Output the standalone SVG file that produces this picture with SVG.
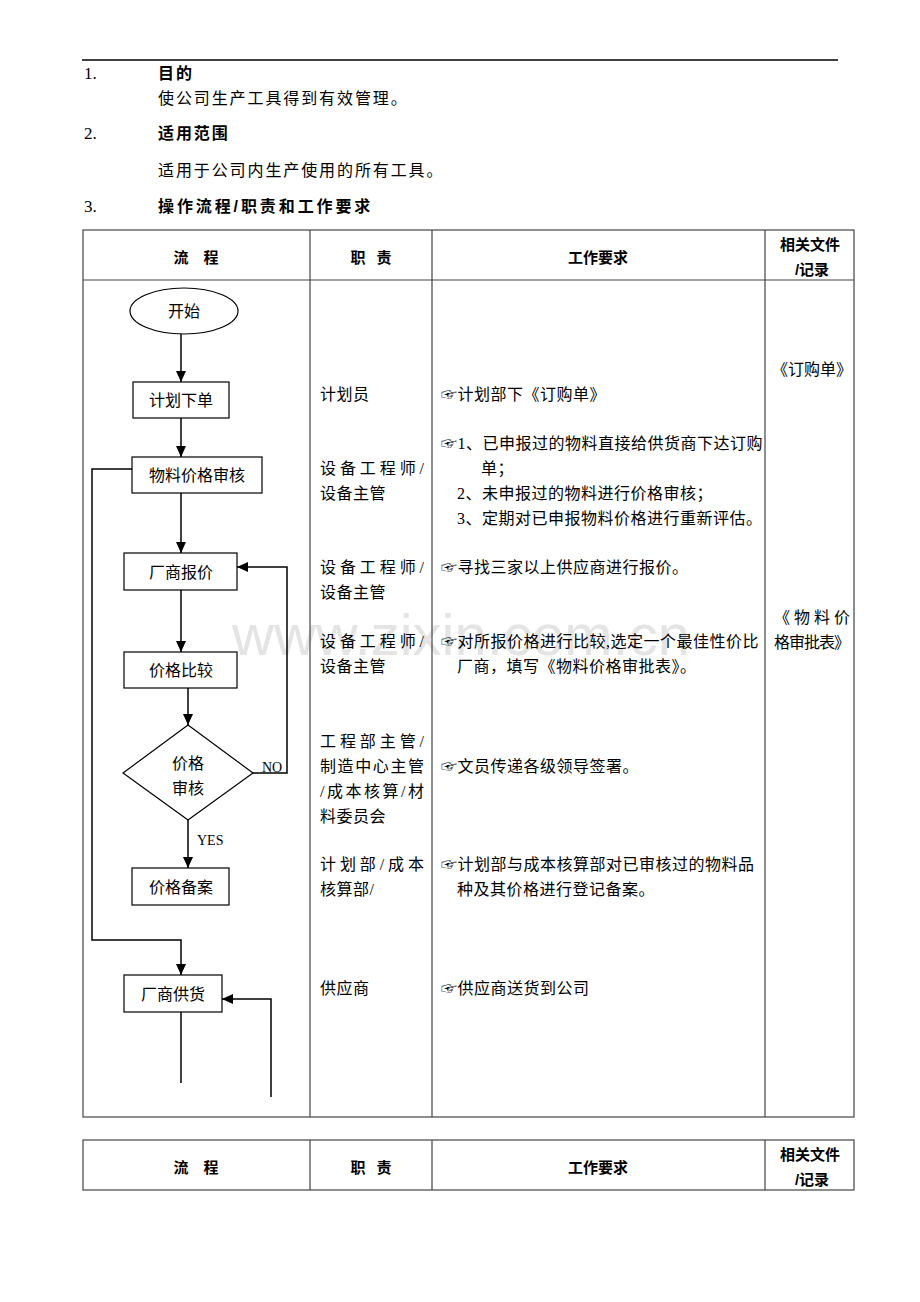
<svg xmlns="http://www.w3.org/2000/svg" width="920" height="1302" viewBox="0 0 920 1302">
<style>
.t{font-family:"Liberation Serif","Noto Sans CJK SC",serif;font-size:16px;fill:#000}
.n{font-family:"Liberation Serif",serif;font-size:17px;fill:#000}
.b{font-family:"Liberation Sans","Noto Sans CJK SC",sans-serif;font-size:16px;font-weight:bold;fill:#000}
.tp{letter-spacing:1.9px}
.c{text-anchor:middle}
.cell{letter-spacing:0.5px}
.grid{stroke:#444;stroke-width:1.2;fill:none}
.box{fill:#fff;stroke:#000;stroke-width:1.2}
.ln{stroke:#000;stroke-width:1.5;fill:none}
.wm{font-family:"Liberation Sans",Arial,sans-serif;font-size:58px;fill:#e4e4e4}
</style>
<defs>
<marker id="ah" markerUnits="userSpaceOnUse" markerWidth="12" markerHeight="10" refX="11" refY="5" orient="auto">
<path d="M0,0 L11,5 L0,10 Z" fill="#000"/>
</marker>
</defs>
<rect width="920" height="1302" fill="#fff"/>

<!-- header section -->
<g id="intro">
<line x1="82" y1="60" x2="838" y2="60" stroke="#000" stroke-width="1.5"/>
<text class="n" x="84" y="79">1.</text>
<text class="b tp" x="158" y="79">目的</text>
<text class="t tp" x="158" y="104">使公司生产工具得到有效管理。</text>
<text class="n" x="84" y="139">2.</text>
<text class="b tp" x="158" y="139">适用范围</text>
<text class="t tp" x="158" y="176">适用于公司内生产使用的所有工具。</text>
<text class="n" x="84" y="212">3.</text>
<text class="b" x="158" y="212" style="letter-spacing:2.9px">操作流程/职责和工作要求</text>
</g>

<!-- watermark -->
<text class="wm" x="232" y="655" textLength="458" lengthAdjust="spacingAndGlyphs">www.zixin.com.cn</text>

<!-- table 1 -->
<g id="table1">
<rect class="grid" x="83" y="230" width="771" height="887"/>
<line class="grid" x1="83" y1="280" x2="854" y2="280"/>
<line class="grid" x1="310" y1="230" x2="310" y2="1117"/>
<line class="grid" x1="432" y1="230" x2="432" y2="1117"/>
<line class="grid" x1="765" y1="230" x2="765" y2="1117"/>
<text class="b c" x="196" y="263" style="font-size:15px">流　程</text>
<text class="b c" x="358" y="263" style="font-size:15px">职</text>
<text class="b c" x="384" y="263" style="font-size:15px">责</text>
<text class="b c" x="598" y="263" style="font-size:15px">工作要求</text>
<text class="b c" x="810" y="250" style="font-size:15px">相关文件</text>
<text class="b c" x="812" y="275" style="font-size:15px">/记录</text>
</g>

<!-- table 2 -->
<g id="table2">
<rect class="grid" x="83" y="1140" width="771" height="50"/>
<line class="grid" x1="310" y1="1140" x2="310" y2="1190"/>
<line class="grid" x1="432" y1="1140" x2="432" y2="1190"/>
<line class="grid" x1="765" y1="1140" x2="765" y2="1190"/>
<text class="b c" x="196" y="1173" style="font-size:15px">流　程</text>
<text class="b c" x="358" y="1173" style="font-size:15px">职</text>
<text class="b c" x="384" y="1173" style="font-size:15px">责</text>
<text class="b c" x="598" y="1173" style="font-size:15px">工作要求</text>
<text class="b c" x="810" y="1160" style="font-size:15px">相关文件</text>
<text class="b c" x="812" y="1185" style="font-size:15px">/记录</text>
</g>

<!-- connectors -->
<g id="connectors">
<path class="ln" d="M181,334 V382" marker-end="url(#ah)"/>
<path class="ln" d="M181,418 V457" marker-end="url(#ah)"/>
<path class="ln" d="M181,493 V553" marker-end="url(#ah)"/>
<path class="ln" d="M181,590 V652" marker-end="url(#ah)"/>
<path class="ln" d="M188,688 V725" marker-end="url(#ah)"/>
<path class="ln" d="M188,820 V868" marker-end="url(#ah)"/>
<path class="ln" d="M253,773 H287 V567 H237" marker-end="url(#ah)"/>
<path class="ln" d="M132,469 H92 V940 H181 V975" marker-end="url(#ah)"/>
<path class="ln" d="M181,1012 V1083"/>
<path class="ln" d="M271,1097 V999 H222" marker-end="url(#ah)"/>
<text class="t" x="262" y="772" style="font-size:14px">NO</text>
<text class="t" x="197" y="845" style="font-size:14px">YES</text>
</g>

<!-- nodes -->
<g id="start">
<ellipse class="box" cx="184" cy="311" rx="54" ry="23"/>
<text class="t c" x="184" y="317">开始</text>
</g>
<g id="plan">
<rect class="box" x="133" y="382" width="96" height="36"/>
<text class="t c" x="181" y="406">计划下单</text>
</g>
<g id="review">
<rect class="box" x="132" y="457" width="130" height="36"/>
<text class="t c" x="197" y="481">物料价格审核</text>
</g>
<g id="quote">
<rect class="box" x="124" y="553" width="113" height="37"/>
<text class="t c" x="181" y="578">厂商报价</text>
</g>
<g id="compare">
<rect class="box" x="124" y="652" width="113" height="36"/>
<text class="t c" x="181" y="676">价格比较</text>
</g>
<g id="decision">
<polygon class="box" points="188,725 253,773 188,820 123,773"/>
<text class="t c" x="188" y="769">价格</text>
<text class="t c" x="188" y="794">审核</text>
</g>
<g id="record">
<rect class="box" x="132" y="868" width="97" height="37"/>
<text class="t c" x="181" y="893">价格备案</text>
</g>
<g id="supply">
<rect class="box" x="124" y="975" width="98" height="37"/>
<text class="t c" x="173" y="1000">厂商供货</text>
</g>

<!-- responsibility column -->
<g id="duties">
<text class="t cell" x="320" y="400">计划员</text>
<text class="t" x="320" y="474" textLength="104" lengthAdjust="spacing">设备工程师/</text>
<text class="t cell" x="320" y="499">设备主管</text>
<text class="t" x="320" y="573" textLength="104" lengthAdjust="spacing">设备工程师/</text>
<text class="t cell" x="320" y="598">设备主管</text>
<text class="t" x="320" y="647" textLength="104" lengthAdjust="spacing">设备工程师/</text>
<text class="t cell" x="320" y="672">设备主管</text>
<text class="t" x="320" y="747" textLength="104" lengthAdjust="spacing">工程部主管/</text>
<text class="t" x="320" y="772" textLength="104" lengthAdjust="spacing">制造中心主管</text>
<text class="t" x="320" y="797" textLength="104" lengthAdjust="spacing">/成本核算/材</text>
<text class="t cell" x="320" y="822">料委员会</text>
<text class="t" x="320" y="870" textLength="104" lengthAdjust="spacing">计划部/成本</text>
<text class="t cell" x="320" y="895">核算部/</text>
<text class="t cell" x="320" y="994">供应商</text>
</g>

<!-- requirements column -->
<g id="requirements">
<text class="t cell" x="441" y="400">☞计划部下《订购单》</text>
<text class="t cell" x="441" y="449">☞1、已申报过的物料直接给供货商下达订购</text>
<text class="t cell" x="481" y="474">单；</text>
<text class="t cell" x="457" y="499">2、未申报过的物料进行价格审核；</text>
<text class="t cell" x="457" y="524">3、定期对已申报物料价格进行重新评估。</text>
<text class="t cell" x="441" y="573">☞寻找三家以上供应商进行报价。</text>
<text class="t cell" x="441" y="647">☞对所报价格进行比较,选定一个最佳性价比</text>
<text class="t cell" x="457" y="672">厂商，填写《物料价格审批表》。</text>
<text class="t cell" x="441" y="772">☞文员传递各级领导签署。</text>
<text class="t cell" x="441" y="870">☞计划部与成本核算部对已审核过的物料品</text>
<text class="t cell" x="457" y="895">种及其价格进行登记备案。</text>
<text class="t cell" x="441" y="994">☞供应商送货到公司</text>
</g>

<!-- documents column -->
<g id="documents">
<text class="t c" x="812" y="375">《订购单》</text>
<text class="t" x="774" y="623" textLength="76" lengthAdjust="spacing">《物料价</text>
<text class="t" x="774" y="648" textLength="76" lengthAdjust="spacing">格审批表》</text>
</g>
</svg>
